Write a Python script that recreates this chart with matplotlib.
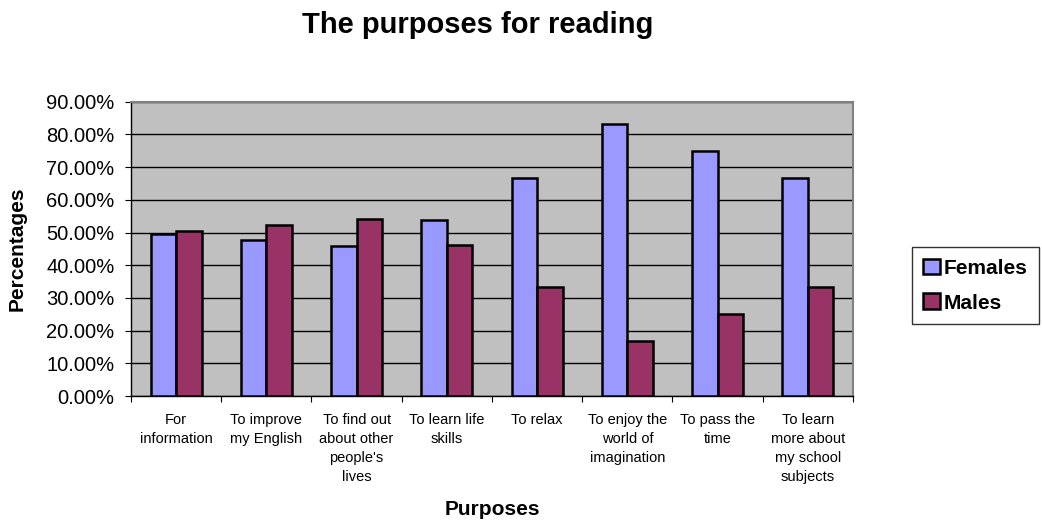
import matplotlib
matplotlib.use("Agg")
import matplotlib.pyplot as plt
import numpy as np
from matplotlib.ticker import FuncFormatter

plt.rcParams["font.family"] = ["Liberation Sans", "DejaVu Sans"]

# Data (percentages)
CATEGORIES = [
    "For\ninformation",
    "To improve\nmy English",
    "To find out\nabout other\npeople's\nlives",
    "To learn life\nskills",
    "To relax",
    "To enjoy the\nworld of\nimagination",
    "To pass the\ntime",
    "To learn\nmore about\nmy school\nsubjects",
]
FEMALES = [49.6, 47.6, 45.8, 53.8, 66.7, 83.3, 75.0, 66.7]
MALES = [50.4, 52.4, 54.2, 46.2, 33.3, 16.7, 25.0, 33.3]

FEMALE_COLOR = "#9999ff"
MALE_COLOR = "#993366"

fig = plt.figure(figsize=(10.42, 5.23), dpi=100)
ax = fig.add_axes([0.1257, 0.2428, 0.6929, 0.5627])
ax.set_facecolor("#c0c0c0")

x = np.arange(len(CATEGORIES))
w = 0.283
ax.bar(x - w / 2, FEMALES, width=w, color=FEMALE_COLOR, edgecolor="black",
       linewidth=1.8, label="Females", zorder=3)
ax.bar(x + w / 2, MALES, width=w, color=MALE_COLOR, edgecolor="black",
       linewidth=1.8, label="Males", zorder=3)

ax.set_xlim(-0.5, len(CATEGORIES) - 0.5)
ax.set_ylim(0, 90)
ax.set_yticks(np.arange(0, 91, 10))
ax.yaxis.set_major_formatter(FuncFormatter(lambda v, p: f"{v:.2f}%"))
ax.tick_params(axis="y", labelsize=14.5, length=4, direction="out", pad=8)
ax.yaxis.grid(True, color="black", linewidth=1.0, zorder=1)
ax.set_axisbelow(True)

# tick marks between categories, labels centred under each pair
ax.set_xticks(np.arange(-0.5, len(CATEGORIES), 1.0))
ax.set_xticklabels([])
ax.tick_params(axis="x", which="major", length=4, direction="out")
ax.set_xticks(x, minor=True)
ax.set_xticklabels(CATEGORIES, minor=True, fontsize=10.5, linespacing=1.45)
ax.tick_params(axis="x", which="minor", length=0, pad=12)

for side in ["top", "right"]:
    ax.spines[side].set_color("#808080")
    ax.spines[side].set_linewidth(1.5)
for side in ["left", "bottom"]:
    ax.spines[side].set_color("black")
    ax.spines[side].set_linewidth(1.0)

ax.set_ylabel("Percentages", fontsize=15, fontweight="bold")
ax.yaxis.set_label_coords(-0.145, 0.5)
ax.set_xlabel("Purposes", fontsize=15, fontweight="bold")
ax.xaxis.set_label_coords(0.5, -0.355)

fig.text(478 / 1042, 1 - 25 / 523, "The purposes for reading",
         fontsize=21, fontweight="bold", ha="center", va="center")

leg = fig.legend(loc="center left", bbox_to_anchor=(0.875, 0.454),
                 prop={"weight": "bold", "size": 15},
                 frameon=True, fancybox=False, edgecolor="black",
                 handlelength=0.8, handleheight=0.8, handletextpad=0.2,
                 labelspacing=0.75, borderpad=0.55, borderaxespad=0)
leg.get_frame().set_linewidth(1.0)

fig.savefig("out.png", dpi=100, facecolor="white")
